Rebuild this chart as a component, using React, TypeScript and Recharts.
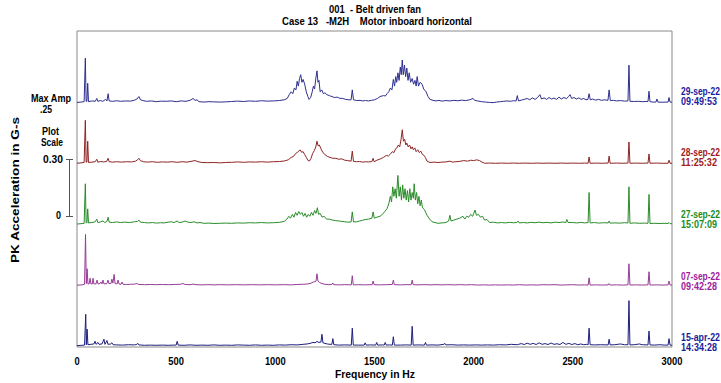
import React from 'react';
import { LineChart, Line, XAxis, YAxis, ReferenceArea } from 'recharts';

// ---- data (Hz, amplitude in G-s) ----
const freqTicks = [0, 500, 1000, 1500, 2000, 2500, 3000];

const trace29Sep: [number, number][] = [
[0,0.004],[20,0.006],[36,0.008],[42,0.237],[46,0.01],[50,0.01],[54,0.105],[58,0.008],[75,0.012],[92,0.01],[100,0.025],[105,0.01],[118,0.014],[130,0.01],[145,0.02],[151,0.012],[157,0.05],[162,0.012],[180,0.01],[200,0.013],[220,0.01],[245,0.012],[270,0.011],[290,0.016],[302,0.022],[312,0.035],[320,0.018],[332,0.014],[350,0.01],[375,0.012],[400,0.008],[425,0.011],[450,0.01],[475,0.012],[500,0.008],[525,0.012],[550,0.01],[572,0.016],[585,0.025],[595,0.015],[605,0.018],[615,0.008],[640,0.006],[665,0.008],[690,0.007],[720,0.006],[750,0.007],[780,0.009],[810,0.011],[840,0.009],[870,0.012],[900,0.01],[930,0.013],[960,0.011],[990,0.012],[1020,0.014],[1045,0.018],[1060,0.025],[1070,0.045],[1080,0.06],[1088,0.05],[1096,0.08],[1104,0.07],[1110,0.115],[1116,0.09],[1122,0.13],[1128,0.15],[1134,0.11],[1140,0.125],[1148,0.1],[1156,0.06],[1164,0.035],[1170,0.02],[1178,0.03],[1186,0.06],[1192,0.09],[1198,0.075],[1204,0.13],[1210,0.17],[1215,0.11],[1220,0.12],[1226,0.06],[1234,0.07],[1242,0.05],[1250,0.055],[1260,0.045],[1272,0.04],[1285,0.035],[1298,0.03],[1312,0.032],[1325,0.026],[1340,0.025],[1355,0.02],[1370,0.018],[1382,0.018],[1388,0.07],[1394,0.018],[1410,0.014],[1427,0.015],[1440,0.012],[1455,0.014],[1470,0.012],[1485,0.015],[1500,0.018],[1515,0.025],[1528,0.035],[1545,0.04],[1555,0.038],[1563,0.05],[1572,0.06],[1580,0.08],[1588,0.07],[1595,0.125],[1601,0.09],[1607,0.14],[1612,0.11],[1618,0.16],[1624,0.12],[1630,0.19],[1635,0.15],[1640,0.227],[1645,0.15],[1651,0.2],[1657,0.14],[1663,0.185],[1669,0.12],[1675,0.16],[1682,0.11],[1690,0.13],[1697,0.1],[1704,0.12],[1710,0.09],[1715,0.14],[1722,0.09],[1730,0.11],[1740,0.1],[1748,0.075],[1760,0.06],[1770,0.035],[1780,0.02],[1795,0.015],[1810,0.012],[1825,0.015],[1840,0.011],[1860,0.014],[1880,0.012],[1900,0.015],[1920,0.013],[1940,0.016],[1960,0.014],[1980,0.018],[1997,0.025],[2005,0.015],[2020,0.012],[2040,0.008],[2060,0.006],[2080,0.004],[2098,0.003],[2115,0.006],[2135,0.008],[2150,0.01],[2168,0.012],[2185,0.01],[2200,0.013],[2214,0.012],[2220,0.04],[2226,0.012],[2240,0.016],[2255,0.02],[2270,0.025],[2283,0.018],[2296,0.028],[2310,0.02],[2322,0.03],[2334,0.045],[2342,0.022],[2355,0.028],[2368,0.02],[2380,0.03],[2393,0.022],[2405,0.027],[2418,0.02],[2430,0.032],[2442,0.022],[2455,0.03],[2468,0.024],[2478,0.035],[2486,0.045],[2494,0.025],[2506,0.03],[2518,0.022],[2530,0.028],[2542,0.02],[2555,0.025],[2566,0.018],[2576,0.02],[2582,0.05],[2588,0.018],[2600,0.022],[2615,0.016],[2630,0.02],[2645,0.015],[2660,0.018],[2677,0.015],[2683,0.07],[2689,0.014],[2705,0.015],[2720,0.012],[2740,0.014],[2760,0.011],[2778,0.012],[2783,0.2],[2788,0.01],[2810,0.009],[2830,0.01],[2850,0.008],[2868,0.009],[2879,0.009],[2884,0.063],[2889,0.008],[2905,0.006],[2919,0.006],[2924,0.022],[2929,0.006],[2950,0.005],[2970,0.006],[2980,0.006],[2985,0.03],[2990,0.006],[3000,0.005]
];

const trace28Sep: [number, number][] = [
[0,0.004],[20,0.006],[36,0.008],[42,0.23],[46,0.01],[50,0.01],[54,0.12],[58,0.008],[75,0.01],[92,0.012],[100,0.025],[105,0.01],[120,0.013],[135,0.011],[150,0.014],[157,0.03],[162,0.012],[180,0.01],[200,0.012],[225,0.01],[250,0.012],[275,0.011],[295,0.015],[305,0.022],[312,0.03],[320,0.018],[335,0.012],[355,0.01],[380,0.012],[405,0.009],[430,0.011],[455,0.01],[480,0.012],[505,0.009],[530,0.012],[555,0.01],[580,0.015],[595,0.018],[610,0.012],[630,0.008],[660,0.007],[690,0.008],[720,0.006],[750,0.008],[780,0.009],[810,0.011],[840,0.009],[870,0.011],[900,0.01],[930,0.012],[960,0.01],[990,0.012],[1020,0.013],[1045,0.016],[1065,0.022],[1080,0.035],[1092,0.04],[1102,0.055],[1112,0.062],[1120,0.07],[1126,0.074],[1132,0.062],[1140,0.065],[1148,0.05],[1156,0.035],[1165,0.018],[1172,0.016],[1180,0.03],[1188,0.055],[1196,0.07],[1204,0.09],[1210,0.12],[1216,0.095],[1222,0.1],[1230,0.08],[1240,0.06],[1250,0.05],[1262,0.04],[1275,0.035],[1290,0.03],[1305,0.03],[1320,0.025],[1335,0.027],[1350,0.02],[1365,0.018],[1382,0.015],[1388,0.068],[1394,0.014],[1410,0.012],[1425,0.013],[1440,0.01],[1455,0.012],[1470,0.011],[1487,0.013],[1493,0.03],[1498,0.012],[1512,0.02],[1528,0.026],[1545,0.035],[1560,0.045],[1570,0.042],[1578,0.05],[1590,0.065],[1598,0.06],[1606,0.08],[1613,0.085],[1620,0.1],[1627,0.09],[1634,0.13],[1640,0.18],[1646,0.12],[1652,0.13],[1658,0.1],[1663,0.11],[1670,0.09],[1677,0.1],[1684,0.08],[1690,0.09],[1696,0.075],[1703,0.085],[1710,0.065],[1718,0.075],[1726,0.06],[1733,0.068],[1742,0.05],[1750,0.045],[1756,0.035],[1765,0.015],[1780,0.008],[1800,0.01],[1820,0.008],[1840,0.01],[1860,0.011],[1880,0.015],[1895,0.01],[1910,0.012],[1930,0.014],[1950,0.018],[1970,0.015],[1985,0.02],[2000,0.018],[2015,0.022],[2030,0.018],[2042,0.01],[2055,0.004],[2080,0.005],[2110,0.004],[2140,0.005],[2170,0.004],[2200,0.005],[2230,0.004],[2260,0.005],[2290,0.004],[2320,0.005],[2350,0.004],[2380,0.005],[2410,0.004],[2440,0.005],[2470,0.004],[2500,0.005],[2530,0.004],[2560,0.005],[2577,0.004],[2582,0.037],[2587,0.004],[2620,0.005],[2650,0.004],[2678,0.005],[2683,0.042],[2688,0.004],[2720,0.005],[2750,0.004],[2778,0.005],[2783,0.116],[2788,0.004],[2820,0.005],[2850,0.004],[2879,0.005],[2884,0.053],[2889,0.004],[2920,0.005],[2950,0.004],[2980,0.004],[2985,0.02],[2990,0.004],[3000,0.004]
];

const trace27Sep: [number, number][] = [
[0,0.004],[20,0.006],[36,0.008],[42,0.216],[46,0.012],[50,0.01],[54,0.084],[58,0.01],[75,0.012],[90,0.015],[100,0.03],[105,0.012],[118,0.015],[130,0.02],[140,0.012],[151,0.018],[157,0.04],[162,0.014],[180,0.012],[200,0.015],[220,0.012],[240,0.014],[265,0.012],[290,0.016],[305,0.018],[312,0.025],[320,0.014],[340,0.012],[360,0.01],[380,0.012],[400,0.009],[420,0.011],[440,0.01],[460,0.014],[475,0.016],[490,0.012],[505,0.02],[515,0.012],[530,0.014],[545,0.02],[560,0.014],[575,0.012],[590,0.016],[605,0.01],[620,0.012],[640,0.008],[665,0.009],[690,0.007],[720,0.008],[750,0.009],[780,0.008],[810,0.01],[840,0.009],[870,0.011],[900,0.01],[930,0.012],[960,0.01],[990,0.011],[1020,0.013],[1045,0.018],[1058,0.03],[1068,0.045],[1076,0.035],[1086,0.055],[1094,0.04],[1102,0.065],[1110,0.05],[1118,0.07],[1126,0.055],[1134,0.065],[1142,0.045],[1150,0.06],[1158,0.04],[1166,0.055],[1174,0.045],[1182,0.065],[1190,0.05],[1198,0.075],[1205,0.06],[1212,0.09],[1218,0.055],[1226,0.06],[1236,0.04],[1246,0.045],[1258,0.03],[1272,0.03],[1288,0.025],[1305,0.022],[1320,0.02],[1335,0.018],[1350,0.016],[1366,0.014],[1382,0.015],[1388,0.068],[1394,0.015],[1410,0.016],[1425,0.02],[1440,0.024],[1455,0.028],[1470,0.03],[1487,0.035],[1493,0.068],[1499,0.035],[1512,0.04],[1528,0.045],[1540,0.055],[1552,0.07],[1563,0.085],[1572,0.11],[1580,0.15],[1586,0.12],[1592,0.2],[1598,0.15],[1604,0.19],[1610,0.14],[1618,0.26],[1624,0.15],[1630,0.2],[1636,0.13],[1642,0.21],[1648,0.14],[1654,0.19],[1660,0.13],[1666,0.18],[1672,0.12],[1678,0.19],[1684,0.13],[1690,0.17],[1696,0.14],[1700,0.216],[1706,0.13],[1712,0.17],[1718,0.11],[1724,0.15],[1730,0.1],[1736,0.13],[1742,0.09],[1752,0.08],[1765,0.05],[1778,0.03],[1790,0.016],[1805,0.012],[1820,0.008],[1840,0.01],[1860,0.012],[1874,0.02],[1880,0.05],[1886,0.02],[1900,0.025],[1915,0.03],[1930,0.035],[1946,0.045],[1955,0.03],[1965,0.045],[1975,0.04],[1985,0.055],[1995,0.045],[2007,0.078],[2014,0.05],[2024,0.055],[2034,0.04],[2045,0.045],[2055,0.025],[2067,0.028],[2080,0.012],[2100,0.014],[2120,0.01],[2140,0.012],[2160,0.01],[2180,0.013],[2200,0.011],[2218,0.012],[2224,0.02],[2230,0.01],[2250,0.012],[2270,0.01],[2290,0.013],[2310,0.011],[2330,0.014],[2350,0.011],[2370,0.013],[2390,0.01],[2410,0.014],[2430,0.012],[2450,0.015],[2465,0.012],[2470,0.028],[2476,0.012],[2500,0.012],[2520,0.01],[2540,0.013],[2560,0.01],[2577,0.012],[2582,0.17],[2587,0.01],[2610,0.012],[2630,0.009],[2655,0.011],[2678,0.01],[2683,0.02],[2688,0.009],[2710,0.01],[2740,0.009],[2760,0.011],[2778,0.01],[2783,0.2],[2788,0.008],[2810,0.01],[2835,0.008],[2860,0.009],[2879,0.008],[2884,0.16],[2889,0.007],[2910,0.008],[2940,0.007],[2960,0.008],[2980,0.007],[2985,0.012],[2990,0.006],[3000,0.006]
];

const trace07Sep: [number, number][] = [
[0,0.003],[25,0.005],[38,0.008],[43,0.27],[47,0.012],[51,0.09],[55,0.01],[61,0.01],[66,0.04],[70,0.01],[77,0.01],[81,0.04],[85,0.01],[96,0.01],[101,0.03],[106,0.01],[116,0.012],[121,0.02],[126,0.01],[131,0.03],[136,0.01],[151,0.012],[156,0.03],[161,0.012],[171,0.012],[176,0.035],[181,0.014],[187,0.06],[192,0.012],[202,0.01],[207,0.03],[212,0.01],[222,0.008],[227,0.02],[232,0.008],[250,0.007],[270,0.008],[290,0.009],[302,0.012],[312,0.007],[340,0.006],[370,0.007],[400,0.006],[430,0.007],[460,0.006],[490,0.007],[520,0.008],[534,0.012],[545,0.007],[570,0.006],[585,0.009],[600,0.006],[630,0.005],[660,0.006],[690,0.005],[720,0.006],[760,0.005],[800,0.006],[840,0.005],[880,0.006],[920,0.005],[960,0.006],[1000,0.005],[1040,0.006],[1080,0.005],[1110,0.007],[1140,0.008],[1165,0.01],[1180,0.014],[1192,0.02],[1200,0.022],[1205,0.025],[1210,0.063],[1215,0.025],[1222,0.018],[1235,0.012],[1250,0.008],[1270,0.006],[1285,0.007],[1290,0.015],[1295,0.006],[1320,0.005],[1350,0.006],[1383,0.005],[1388,0.053],[1393,0.005],[1420,0.006],[1450,0.005],[1488,0.006],[1493,0.025],[1498,0.006],[1530,0.005],[1560,0.006],[1590,0.007],[1595,0.03],[1600,0.006],[1630,0.005],[1660,0.006],[1685,0.006],[1690,0.03],[1695,0.006],[1720,0.005],[1750,0.006],[1780,0.005],[1810,0.006],[1840,0.005],[1870,0.006],[1900,0.005],[1930,0.006],[1960,0.005],[1990,0.006],[2020,0.004],[2050,0.005],[2080,0.004],[2110,0.005],[2140,0.004],[2170,0.005],[2200,0.004],[2230,0.006],[2260,0.004],[2290,0.005],[2320,0.004],[2350,0.006],[2380,0.005],[2410,0.006],[2440,0.004],[2470,0.005],[2500,0.006],[2530,0.004],[2560,0.005],[2577,0.004],[2582,0.042],[2587,0.004],[2620,0.005],[2650,0.004],[2678,0.005],[2683,0.012],[2688,0.004],[2720,0.005],[2750,0.004],[2778,0.005],[2783,0.116],[2788,0.004],[2820,0.005],[2850,0.004],[2879,0.005],[2884,0.074],[2889,0.004],[2920,0.005],[2950,0.004],[2980,0.005],[2985,0.025],[2990,0.004],[3000,0.004]
];

const trace15Apr: [number, number][] = [
[0,0.003],[25,0.005],[38,0.006],[44,0.168],[47,0.008],[51,0.09],[55,0.008],[70,0.01],[85,0.012],[91,0.026],[96,0.01],[106,0.02],[111,0.01],[126,0.012],[136,0.037],[141,0.01],[151,0.03],[156,0.01],[170,0.012],[176,0.018],[182,0.008],[200,0.007],[230,0.006],[260,0.008],[290,0.007],[302,0.01],[307,0.015],[312,0.007],[340,0.005],[370,0.006],[400,0.005],[430,0.006],[460,0.005],[490,0.006],[500,0.006],[505,0.026],[510,0.006],[540,0.005],[570,0.007],[600,0.005],[630,0.006],[660,0.005],[690,0.007],[720,0.005],[750,0.006],[780,0.005],[810,0.007],[840,0.006],[870,0.005],[900,0.007],[930,0.005],[960,0.006],[990,0.005],[1020,0.007],[1050,0.006],[1080,0.008],[1110,0.007],[1140,0.01],[1160,0.012],[1175,0.015],[1190,0.02],[1200,0.018],[1210,0.025],[1220,0.02],[1230,0.022],[1235,0.063],[1240,0.018],[1250,0.015],[1262,0.012],[1275,0.01],[1285,0.01],[1290,0.04],[1295,0.008],[1320,0.006],[1350,0.007],[1383,0.006],[1388,0.095],[1393,0.006],[1420,0.006],[1448,0.006],[1453,0.018],[1458,0.006],[1480,0.007],[1506,0.006],[1511,0.02],[1516,0.006],[1540,0.007],[1549,0.006],[1554,0.02],[1559,0.006],[1575,0.007],[1590,0.006],[1595,0.05],[1600,0.006],[1630,0.006],[1660,0.007],[1685,0.006],[1690,0.105],[1695,0.006],[1720,0.007],[1752,0.006],[1757,0.02],[1762,0.006],[1790,0.007],[1820,0.006],[1850,0.01],[1855,0.015],[1860,0.007],[1890,0.008],[1920,0.006],[1950,0.007],[1980,0.006],[2010,0.007],[2040,0.006],[2070,0.007],[2100,0.006],[2130,0.008],[2160,0.007],[2190,0.01],[2220,0.008],[2240,0.014],[2255,0.009],[2270,0.016],[2285,0.01],[2300,0.015],[2315,0.009],[2330,0.018],[2345,0.01],[2360,0.014],[2375,0.009],[2390,0.017],[2405,0.01],[2420,0.013],[2435,0.009],[2450,0.02],[2465,0.01],[2480,0.015],[2495,0.009],[2510,0.014],[2525,0.008],[2540,0.012],[2555,0.008],[2570,0.01],[2577,0.008],[2582,0.095],[2587,0.008],[2610,0.007],[2640,0.008],[2678,0.007],[2683,0.037],[2688,0.007],[2710,0.008],[2740,0.012],[2760,0.008],[2778,0.008],[2783,0.24],[2788,0.007],[2810,0.008],[2835,0.012],[2850,0.008],[2879,0.007],[2884,0.08],[2889,0.007],[2910,0.006],[2940,0.008],[2960,0.006],[2980,0.006],[2985,0.04],[2990,0.006],[3000,0.005]
];

const traceDates = ['29-sep-22', '28-sep-22', '27-sep-22', '07-sep-22', '15-apr-22'];
const traceTimes = ['09:49:53', '11:25:32', '15:07:09', '09:42:28', '14:34:28'];

// ---- layout / style ----
const traces = [trace29Sep, trace28Sep, trace27Sep, trace07Sep, trace15Apr];
const waterfallOffsets = [1.283, 0.963, 0.643, 0.322, 0.004];
const lineColors = ['#2e2e8e', '#8e2424', '#2a8c2a', '#963c96', '#1e1e7e'];
const labelColors = ['#1c1ca0', '#a01c1c', '#1c8c1c', '#9c1c9c', '#1c1c96'];
const labelY: [number, number][] = [[91, 101], [152, 162], [214, 224], [276, 286], [337, 347]];
const FONT = "'Liberation Sans', Arial, sans-serif";
const Y_MAX = 1.663;

const FreqTick = (props: any) => {
  const { x, y, payload } = props;
  const s = String(payload.value);
  return (
    <text x={x} y={y + 4} textAnchor="middle" dominantBaseline="central" fontFamily={FONT}
      fontWeight="bold" fontSize={11} fill="#000" textLength={s.length * 5.2} lengthAdjust="spacingAndGlyphs">
      {s}
    </text>
  );
};

const T = (p: { x: number; y: number; w: number; s: string; size?: number; anchor?: string; fill?: string; transform?: string }) => (
  <text x={p.x} y={p.y} transform={p.transform} textAnchor={p.anchor || 'start'} dominantBaseline="central"
    fontSize={p.size || 11} fill={p.fill || '#000'} textLength={p.w} lengthAdjust="spacingAndGlyphs"
    style={{ whiteSpace: 'pre' }}>
    {p.s}
  </text>
);

export default function App() {
  const series = traces.map((tr, i) =>
    tr.map(([f, a]) => ({ f, v: a + waterfallOffsets[i] }))
  );
  return (
    <div style={{ position: 'absolute', left: 0, top: 0, width: 721, height: 383, background: '#fff' }}>
      <LineChart width={721} height={383} margin={{ top: 31, right: 49, bottom: 0, left: 77 }}>
        <XAxis
          xAxisId="b"
          dataKey="f"
          type="number"
          domain={[0, 3000]}
          ticks={freqTicks}
          allowDataOverflow
          axisLine={false}
          tickLine={false}
          tickSize={6}
          tickMargin={4}
          height={36}
          tick={<FreqTick />}
        />
        <XAxis
          xAxisId="t"
          orientation="top"
          type="number"
          domain={[0, 3000]}
          ticks={freqTicks}
          height={0}
          mirror
          tick={false}
          axisLine={false}
          tickLine={{ stroke: '#808080' }}
          tickSize={4}
        />
        <YAxis yAxisId="y" type="number" domain={[0, Y_MAX]} hide allowDataOverflow />
        <ReferenceArea xAxisId="b" yAxisId="y" x1={0} x2={3000} y1={0} y2={Y_MAX} fill="none" stroke="#8a8a8a" strokeWidth={1} />
        {series.map((d, i) => (
          <Line
            key={traceDates[i]}
            xAxisId="b"
            yAxisId="y"
            data={d}
            dataKey="v"
            type="linear"
            stroke={lineColors[i]}
            strokeWidth={1}
            dot={false}
            activeDot={false}
            isAnimationActive={false}
          />
        ))}
      </LineChart>
      <svg width={721} height={383} style={{ position: 'absolute', left: 0, top: 0, pointerEvents: 'none' }}
        fontFamily={FONT} fontWeight="bold">
        <T x={375} y={9} w={92} s="001  - Belt driven fan" anchor="middle" />
        <T x={377} y={21} w={190} s="Case 13   -M2H    Motor inboard horizontal" anchor="middle" />
        <T x={0} y={0} w={146} s="PK Acceleration in G-s" anchor="middle" size={11} transform="translate(15,190) rotate(-90)" />
        <T x={375} y={374} w={80} s="Frequency in Hz" anchor="middle" />
        <T x={31} y={98} w={40} s="Max Amp" />
        <T x={40} y={109} w={12} s=".25" />
        <T x={42} y={131} w={17} s="Plot" />
        <T x={41} y={142} w={22} s="Scale" />
        <T x={43} y={159} w={20} s="0.30" />
        <T x={56} y={215} w={5} s="0" />
        <line x1={69.5} y1={159} x2={69.5} y2={216} stroke="#555" strokeWidth={1} />
        <line x1={66} y1={159.5} x2={73} y2={159.5} stroke="#555" strokeWidth={1} />
        <line x1={66} y1={216.5} x2={73} y2={216.5} stroke="#555" strokeWidth={1} />
        {traceDates.map((d, i) => (
          <g key={d}>
            <T x={681} y={labelY[i][0]} w={39} s={d} size={10} fill={labelColors[i]} />
            <T x={681} y={labelY[i][1]} w={36} s={traceTimes[i]} size={10} fill={labelColors[i]} />
          </g>
        ))}
      </svg>
    </div>
  );
}
